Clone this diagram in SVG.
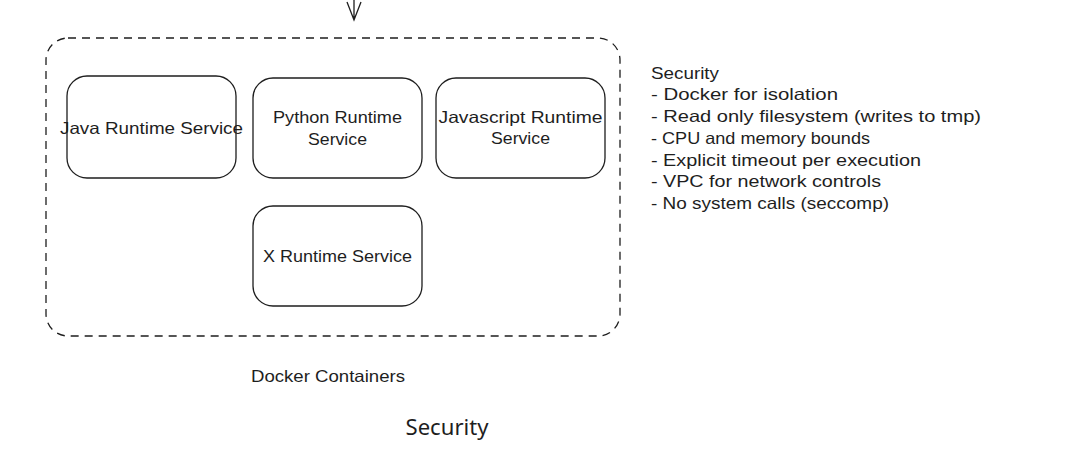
<svg xmlns="http://www.w3.org/2000/svg" width="1074" height="452" viewBox="0 0 1074 452">
<style>
.box{fill:none;stroke:#1e1e1e;stroke-width:1.3}
.cont{fill:none;stroke:#1e1e1e;stroke-width:1.3;stroke-dasharray:8 6}
.hand{font-family:"Liberation Sans",Arial,sans-serif;font-size:16.5px;fill:#1e1e1e}
.mid{text-anchor:middle}
.title{font-family:"Noto Sans","Open Sans",sans-serif;font-size:21px;fill:#1e1e1e;text-anchor:middle}
</style>
<rect width="1074" height="452" fill="#ffffff"/>
<g id="connectors">
<path class="box" d="M354 0 L354 20 M347 2 L354 20 L361 2"/>
</g>
<g id="docker-containers">
<rect class="cont" x="46" y="38" width="574" height="298" rx="22"/>
<text class="hand mid" x="328" y="382" textLength="154" lengthAdjust="spacingAndGlyphs">Docker Containers</text>
</g>
<g id="java">
<rect class="box" x="67" y="76" width="169" height="102" rx="20"/>
<text class="hand mid" x="151.5" y="134" textLength="183" lengthAdjust="spacingAndGlyphs">Java Runtime Service</text>
</g>
<g id="python">
<rect class="box" x="253" y="78" width="169" height="100" rx="20"/>
<text class="hand mid" x="337.5" y="123" textLength="129" lengthAdjust="spacingAndGlyphs">Python Runtime</text>
<text class="hand mid" x="337.5" y="145" textLength="59" lengthAdjust="spacingAndGlyphs">Service</text>
</g>
<g id="javascript">
<rect class="box" x="436" y="78" width="169" height="100" rx="20"/>
<text class="hand mid" x="520.5" y="123" textLength="164" lengthAdjust="spacingAndGlyphs">Javascript Runtime</text>
<text class="hand mid" x="520.5" y="144" textLength="59" lengthAdjust="spacingAndGlyphs">Service</text>
</g>
<g id="x-runtime">
<rect class="box" x="253" y="206" width="169" height="100" rx="20"/>
<text class="hand mid" x="337.5" y="262" textLength="149" lengthAdjust="spacingAndGlyphs">X Runtime Service</text>
</g>
<g id="security-notes">
<text class="hand" x="651" y="79" textLength="68" lengthAdjust="spacingAndGlyphs">Security</text>
<text class="hand" x="651" y="100" textLength="187" lengthAdjust="spacingAndGlyphs">- Docker for isolation</text>
<text class="hand" x="651" y="122" textLength="330" lengthAdjust="spacingAndGlyphs">- Read only filesystem (writes to tmp)</text>
<text class="hand" x="651" y="144" textLength="219" lengthAdjust="spacingAndGlyphs">- CPU and memory bounds</text>
<text class="hand" x="651" y="166" textLength="270" lengthAdjust="spacingAndGlyphs">- Explicit timeout per execution</text>
<text class="hand" x="651" y="187" textLength="230" lengthAdjust="spacingAndGlyphs">- VPC for network controls</text>
<text class="hand" x="651" y="209" textLength="238" lengthAdjust="spacingAndGlyphs">- No system calls (seccomp)</text>
</g>
<g id="title">
<text class="title" x="447" y="435" textLength="83" lengthAdjust="spacingAndGlyphs">Security</text>
</g>
</svg>
